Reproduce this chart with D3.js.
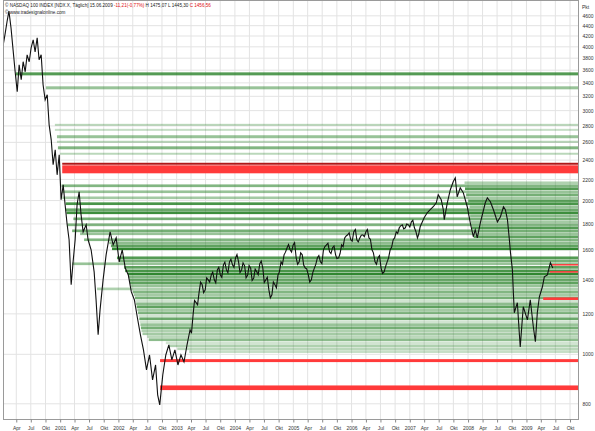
<!DOCTYPE html>
<html>
<head>
<meta charset="utf-8">
<script src="https://cdn.jsdelivr.net/npm/d3@7/dist/d3.min.js"></script>
<style>
  body { margin: 0; background: #fff; }
  text { font-family: "Liberation Sans", Arial, sans-serif; }
</style>
</head>
<body>
<div id="chart"></div>
<script>
// NASDAQ 100, daily chart 2000 - June 2009, with open gap zones
const width = 595;
const height = 431;
const plot = { left: 3, right: 578, top: 0, bottom: 419 };

const priceDates = [
  "2000-01-08","2000-01-21","2000-02-03","2000-02-15","2000-02-28","2000-03-12","2000-03-25","2000-04-07","2000-04-19","2000-05-02",
  "2000-05-14","2000-05-27","2000-06-08","2000-06-21","2000-07-03","2000-07-16","2000-07-28","2000-08-10","2000-08-22","2000-09-04",
  "2000-09-16","2000-09-29","2000-10-12","2000-10-24","2000-11-06","2000-11-18","2000-12-01","2000-12-13","2000-12-26","2001-01-07",
  "2001-01-20","2001-02-01","2001-02-14","2001-02-26","2001-03-11","2001-03-23","2001-04-05","2001-04-17","2001-04-30","2001-05-12",
  "2001-05-25","2001-06-13","2001-06-25","2001-07-14","2001-08-02","2001-08-14","2001-08-27","2001-09-08","2001-09-27","2001-10-16",
  "2001-11-10","2001-11-29","2001-12-18","2002-01-06","2002-01-25","2002-02-13","2002-03-04","2002-03-23","2002-04-11","2002-04-30",
  "2002-05-19","2002-06-07","2002-06-26","2002-07-15","2002-08-03","2002-08-22","2002-09-04","2002-09-17","2002-10-06","2002-10-25",
  "2002-11-13","2002-12-02","2002-12-21","2003-01-09","2003-01-28","2003-02-16","2003-03-07",
  "2003-03-26","2003-04-04","2003-04-14","2003-04-23","2003-05-03","2003-05-12","2003-05-22","2003-05-31","2003-06-10","2003-06-19",
  "2003-06-29","2003-07-08","2003-07-18","2003-07-27","2003-08-06","2003-08-15","2003-08-25","2003-09-03","2003-09-13","2003-09-22",
  "2003-10-02","2003-10-11","2003-10-21","2003-10-30","2003-11-09","2003-11-18","2003-11-28","2003-12-07","2003-12-17","2003-12-26",
  "2004-01-05","2004-01-14","2004-01-24","2004-02-02","2004-02-12","2004-02-21","2004-03-02","2004-03-11","2004-03-21","2004-03-30",
  "2004-04-09","2004-04-18","2004-04-28","2004-05-07","2004-05-17","2004-05-26","2004-06-05","2004-06-14","2004-06-24","2004-07-03",
  "2004-07-13","2004-07-22","2004-08-01","2004-08-10","2004-08-20","2004-08-29","2004-09-08","2004-09-17","2004-09-27","2004-10-06",
  "2004-10-16","2004-10-25","2004-11-04","2004-11-13","2004-11-23","2004-12-02","2004-12-12","2004-12-21","2004-12-31","2005-01-09",
  "2005-01-19","2005-01-28","2005-02-07","2005-02-16","2005-02-26","2005-03-07","2005-03-17","2005-03-26","2005-04-05","2005-04-14",
  "2005-04-24","2005-05-03","2005-05-13","2005-05-22","2005-06-01","2005-06-10","2005-06-20","2005-06-29","2005-07-09","2005-07-18",
  "2005-07-28","2005-08-06","2005-08-16","2005-08-25","2005-09-04","2005-09-13","2005-09-23","2005-10-01","2005-10-12","2005-10-21",
  "2005-10-31","2005-11-09","2005-11-19","2005-11-28","2005-12-08","2005-12-17","2005-12-27","2006-01-05","2006-01-15","2006-01-25",
  "2006-02-03","2006-02-12","2006-02-22","2006-03-03","2006-03-13","2006-03-22","2006-04-01","2006-04-10","2006-04-20","2006-04-29",
  "2006-05-09","2006-05-18","2006-05-28","2006-06-06","2006-06-16","2006-06-25","2006-07-05","2006-07-14","2006-07-24","2006-08-02",
  "2006-08-12","2006-08-21","2006-08-31","2006-09-09","2006-09-19","2006-09-28","2006-10-08","2006-10-17","2006-10-27","2006-11-05",
  "2006-11-15","2006-11-24","2006-12-04","2006-12-13","2006-12-23","2007-01-01","2007-01-11","2007-01-20","2007-01-30","2007-02-08",
  "2007-02-18","2007-02-26","2007-03-07",
  "2007-04-01","2007-04-20","2007-05-09","2007-05-28","2007-06-16","2007-06-28",
  "2007-07-17","2007-07-30","2007-08-05","2007-08-24","2007-09-12","2007-09-30","2007-10-13","2007-10-25","2007-11-13","2007-12-02",
  "2007-12-27","2008-01-15","2008-02-03","2008-02-15","2008-02-28","2008-03-18","2008-04-18","2008-05-01","2008-05-20","2008-06-08",
  "2008-07-03","2008-07-22","2008-08-10","2008-08-22","2008-09-04","2008-09-16","2008-09-23","2008-10-05","2008-10-11","2008-10-17",
  "2008-11-05","2008-11-17","2008-11-23","2008-12-12","2009-01-07","2009-01-25","2009-02-13","2009-02-26","2009-03-10","2009-03-23",
  "2009-04-11","2009-04-23","2009-05-12","2009-05-31","2009-06-15"
];
const priceValues = [
  4000,4223,4478,4700,4358,3946,3574,3266,3689,3448,
  3740,3574,3858,3740,3982,4129,3911,4167,3773,3858,
  3371,3150,3222,2814,2630,2350,2514,2246,2459,2007,
  2148,1963,1793,1676,1368,1517,1676,1963,2081,1876,
  1737,1793,1676,1602,1450,1279,1092,1222,1399,1566,
  1737,1638,1690,1517,1602,1475,1430,1325,1279,1179,
  1092,1020,932,997,891,953,833,796,911,997,
  1043,975,1020,953,997,966,1043,
  1117,1100,1195,1275,1262,1250,1325,1385,1368,1320,
  1337,1412,1399,1385,1430,1448,1399,1380,1463,1480,
  1430,1415,1497,1515,1463,1445,1517,1535,1497,1480,
  1545,1568,1517,1445,1463,1510,1490,1412,1430,1492,
  1475,1395,1411,1468,1450,1432,1504,1522,1475,1382,
  1399,1415,1337,1290,1308,1385,1368,1350,1430,1450,
  1517,1500,1566,1585,1617,1640,1602,1585,1638,1655,
  1545,1500,1517,1580,1566,1495,1475,1470,1430,1385,
  1399,1445,1475,1500,1545,1560,1517,1505,1602,1625,
  1638,1650,1587,1575,1617,1630,1566,1540,1545,1575,
  1638,1625,1690,1705,1714,1730,1676,1665,1737,1755,
  1676,1660,1690,1710,1714,1700,1737,1755,1690,1680,
  1602,1580,1517,1500,1545,1560,1475,1440,1450,1485,
  1517,1545,1602,1620,1676,1690,1737,1725,1769,1785,
  1793,1760,1769,1800,1793,1775,1817,1830,1769,1740,
  1690,1720,1777,
  1851,1893,1919,1945,1980,2053,
  2007,1919,1834,1980,2100,2177,2216,2034,2119,2072,
  1945,1809,1699,1753,1690,1809,1980,2025,1989,1919,
  1817,1859,1945,1919,1834,1676,1580,1463,1319,1206,
  1262,1102,1034,1239,1168,1279,1132,1058,1206,1296,
  1356,1418,1430,1511,1475
];

// open gap zones: centre level, price span, first date, kind (up/down), strength
const bandLevel = [
  3541,3325,2814,2751,2667,2607,2537,2470,
  2167,2138,2110,2081,2053,2025,1998,1972,1945,1919,
  1893,1868,1842,1817,1793,1769,1745,1722,1699,1676,
  1653,1631,1609,1545,1524,1504,1480,1457,1437,1418,
  1399,1380,1362,1343,1325,1308,1290,1273,1256,1239,
  1222,1206,1190,1174,1158,1143,1127,1112,1097,1083,
  1068,1053,1039,1025,1012,
  2361,2303,1497,1450,1285,972,860
];
const bandSpan = [
  48,45,25,25,36,24,34,22,
  26,26,25,25,25,24,24,24,23,23,
  23,22,22,22,22,21,21,21,20,20,
  20,20,19,19,18,18,18,17,17,17,
  17,17,16,16,16,16,15,15,15,15,
  15,14,14,14,14,14,14,13,13,13,
  13,13,12,12,12,
  21,83,10,10,15,13,18
];
const bandStart = [
  "2000-03-30","2000-10-04","2000-11-29","2000-11-29","2000-12-12","2000-12-12","2000-12-18","2001-01-01",
  "2007-12-10","2001-01-10","2007-12-13","2001-01-12","2007-12-20","2001-01-15","2008-01-02","2001-02-05","2008-01-10","2001-02-05",
  "2001-02-10","2008-01-14","2001-03-25","2008-01-18","2001-02-15","2008-01-25","2001-03-17","2001-05-06","2008-02-05","2001-05-31",
  "2001-11-05","2001-11-15","2001-11-22","2001-12-23","2002-01-06","2001-03-17","2002-02-05","2002-02-12","2002-03-02","2002-03-05",
  "2002-03-10","2002-03-14","2002-03-20","2001-08-20","2002-04-01","2002-04-08","2002-04-15","2002-04-18","2002-04-22","2002-04-26",
  "2002-04-30","2002-05-04","2002-05-08","2002-05-12","2002-05-16","2002-05-19","2002-05-22","2002-05-26","2002-06-01","2002-07-01",
  "2002-07-10","2002-10-25","2002-11-15","2003-01-05","2003-03-20",
  "2001-01-14","2001-01-14","2009-06-10","2009-05-27","2009-04-16","2002-09-19","2002-09-19"
];
const bandKind = [
  "up","up","up","up","up","up","up","up",
  "up","up","up","up","up","up","up","up","up","up",
  "up","up","up","up","up","up","up","up","up","up",
  "up","up","up","up","up","up","up","up","up","up",
  "up","up","up","up","up","up","up","up","up","up",
  "up","up","up","up","up","up","up","up","up","up",
  "up","up","up","up","up",
  "down","down","down","down","down","down","down"
];
const bandStrength = [
  0.75,0.45,0.3,0.25,0.45,0.3,0.55,0.3,
  0.35,0.55,0.75,0.45,0.6,0.4,0.7,0.8,0.45,0.65,
  0.85,0.5,0.6,0.4,0.55,0.75,0.6,0.45,0.7,0.55,
  0.5,0.7,0.9,0.75,0.6,0.45,0.7,0.8,0.9,0.55,
  0.65,0.7,0.45,0.35,0.55,0.4,0.6,0.2,0.5,0.7,
  0.4,0.55,0.2,0.65,0.2,0.45,0.6,0.35,0.4,0.3,
  0.5,0.2,0.35,0.3,0.25,
  1,0.8,0.8,0.8,0.8,0.8,0.8
];

const yTicks = [800,1000,1200,1400,1600,1800,2000,2200,2400,2600,2800,3000,3200,3400,3600,3800,4000,4200,4400,4600];
const monthNames = ["Jan","Feb","Mär","Apr","Mai","Jun","Jul","Aug","Sep","Okt","Nov","Dez"];

const parseDate = d3.timeParse("%Y-%m-%d");
const prices = priceDates.map((d, i) => ({ date: parseDate(d), value: priceValues[i] }));
const bands = bandLevel.map((d, i) => ({
  lo: d - bandSpan[i] / 2,
  hi: d + bandSpan[i] / 2,
  start: parseDate(bandStart[i]),
  kind: bandKind[i],
  strength: bandStrength[i]
}));

const svg = d3.select("#chart")
  .append("svg")
  .attr("width", width)
  .attr("height", height);

svg.append("rect").attr("width", width).attr("height", height).attr("fill", "#fff");

const xScale = d3.scaleTime()
  .domain([new Date(2000, 0, 1), new Date(2009, 10, 20)])
  .range([1.75, plot.right]);

const yScale = d3.scaleLog()
  .domain([747, 4940])
  .range([plot.bottom, plot.top]);

svg.append("clipPath").attr("id", "clip")
  .append("rect")
  .attr("x", plot.left).attr("y", plot.top)
  .attr("width", plot.right - plot.left).attr("height", plot.bottom - plot.top);

const xTicks = d3.timeMonth.every(3).range(new Date(2000, 3, 1), new Date(2009, 10, 20));

// grid
const grid = svg.append("g").attr("clip-path", "url(#clip)");
grid.selectAll("line.v")
  .data(xTicks)
  .enter()
  .append("line")
  .attr("x1", d => xScale(d)).attr("x2", d => xScale(d))
  .attr("y1", plot.top).attr("y2", plot.bottom)
  .attr("stroke", "#e3e3e3").attr("stroke-width", 1);
grid.selectAll("line.h")
  .data(yTicks)
  .enter()
  .append("line")
  .attr("x1", plot.left).attr("x2", plot.right)
  .attr("y1", d => yScale(d)).attr("y2", d => yScale(d))
  .attr("stroke", "#e3e3e3").attr("stroke-width", 1);

// gap zones, red ones on top
const bandColor = d => d.kind === "down" ? (d.strength >= 1 ? "#b01818" : "#ff3a3a") : "#1b7a1b";
svg.append("g").attr("clip-path", "url(#clip)")
  .selectAll("rect")
  .data(bands.slice().sort((a, b) => (a.kind === "down") - (b.kind === "down")))
  .enter()
  .append("rect")
  .attr("x", d => xScale(d.start))
  .attr("y", d => yScale(d.hi))
  .attr("width", d => plot.right - xScale(d.start))
  .attr("height", d => yScale(d.lo) - yScale(d.hi))
  .attr("fill", bandColor)
  .attr("fill-opacity", d => d.kind === "down" ? 1 : d.strength);

// price line
const line = d3.line()
  .x(d => xScale(d.date))
  .y(d => yScale(d.value));
svg.append("path")
  .datum(prices)
  .attr("clip-path", "url(#clip)")
  .attr("d", line)
  .attr("fill", "none")
  .attr("stroke", "#111")
  .attr("stroke-width", 1.1);

// frame
svg.append("rect")
  .attr("x", plot.left + 0.5).attr("y", plot.top + 0.5)
  .attr("width", plot.right - plot.left).attr("height", plot.bottom - plot.top)
  .attr("fill", "none").attr("stroke", "#9a9a9a");

// x axis
const xAxis = svg.append("g")
  .attr("transform", `translate(0,${plot.bottom + 0.5})`)
  .call(d3.axisBottom(xScale).tickValues(xTicks).tickSize(3)
    .tickFormat(d => d.getMonth() === 0 ? d.getFullYear() : monthNames[d.getMonth()]));
xAxis.select(".domain").remove();
xAxis.selectAll("line").attr("stroke", "#888");
xAxis.selectAll("text").attr("font-size", 5).attr("fill", "#333").attr("dy", "0.9em");

// y axis on the right
const yAxis = svg.append("g")
  .attr("transform", `translate(${plot.right + 0.5},0)`)
  .call(d3.axisRight(yScale).tickValues(yTicks).tickSize(0).tickFormat(d3.format("d")));
yAxis.select(".domain").remove();
yAxis.selectAll("text").attr("font-size", 5).attr("fill", "#333").attr("x", 4);

svg.append("text")
  .attr("x", plot.right + 4).attr("y", 9)
  .attr("font-size", 5).attr("fill", "#333")
  .text("Pkt");

// header
const header = svg.append("text")
  .attr("x", 5).attr("y", 7)
  .attr("font-size", 4.6).attr("fill", "#222");
header.append("tspan").text("© NASDAQ 100 INDEX [NDX.X, Täglich] 15.06.2009 ");
header.append("tspan").attr("fill", "#e01010").text("-11,21(-0,77%) ");
header.append("tspan").text("H 1475,07 L 1445,30 ");
header.append("tspan").attr("fill", "#e01010").text("C 1456,56");

svg.append("text")
  .attr("x", 5).attr("y", 14)
  .attr("font-size", 4.6).attr("fill", "#222")
  .text("© www.tradesignalonline.com");
</script>
</body>
</html>
